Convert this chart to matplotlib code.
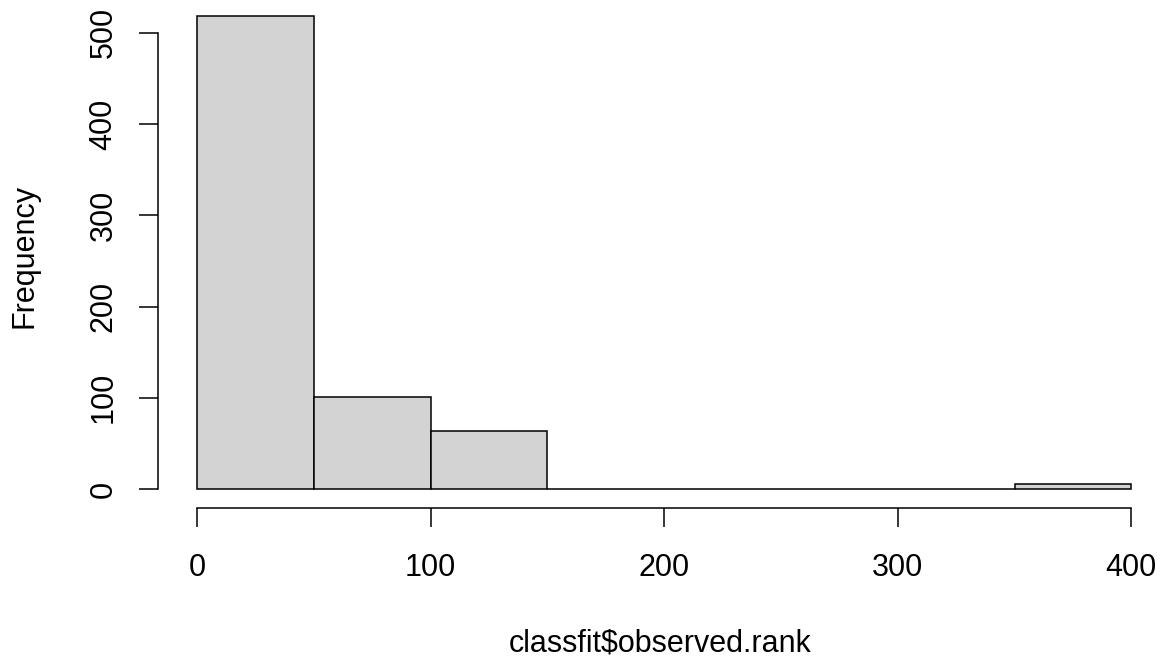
import numpy as np
import matplotlib
matplotlib.use("Agg")
import matplotlib.pyplot as plt

# histogram of classfit$observed.rank (counts)
breaks = [0, 50, 100, 150, 200, 250, 300, 350, 400]
counts = [518, 101, 64, 0, 0, 0, 0, 6]
x_ticks = [0, 100, 200, 300, 400]
y_ticks = [0, 100, 200, 300, 400, 500]

plt.rcParams['font.family'] = ['Liberation Sans', 'DejaVu Sans']

W, H = 1164, 662
fig = plt.figure(figsize=(W / 100, H / 100), dpi=100)
# plot region in pixels: left 158, right 1164, top 0, bottom 508
ax = fig.add_axes([158 / W, (H - 508) / H, (1164 - 158) / W, 508 / H])

lefts = np.array(breaks[:-1])
widths = np.diff(breaks)
ax.bar(lefts, counts, width=widths, align='edge', color='#D3D3D3',
       edgecolor='black', linewidth=1.1, clip_on=False)

ax.set_xlim(-16.7, 414)
ax.set_ylim(-20.8, 536)

for s in ['top', 'right']:
    ax.spines[s].set_visible(False)
ax.spines['left'].set_bounds(0, 500)
ax.spines['bottom'].set_bounds(0, 400)
for s in ['left', 'bottom']:
    ax.spines[s].set_linewidth(1.1)

ax.set_xticks(x_ticks)
ax.set_yticks(y_ticks)
ax.tick_params(axis='both', direction='out', length=13.5, width=1.1,
               labelsize=22)
ax.tick_params(axis='x', pad=19)
ax.tick_params(axis='y', pad=15)
for lab in ax.get_yticklabels():
    lab.set_rotation(90)
    lab.set_va('center')

fig.text(25 / W, 1 - 256 / H, 'Frequency', rotation=90, fontsize=22,
         ha='center', va='center')
fig.text(660 / W, 1 - 643 / H, 'classfit$observed.rank', fontsize=22,
         ha='center', va='center')

fig.savefig('out.png', dpi=100)
